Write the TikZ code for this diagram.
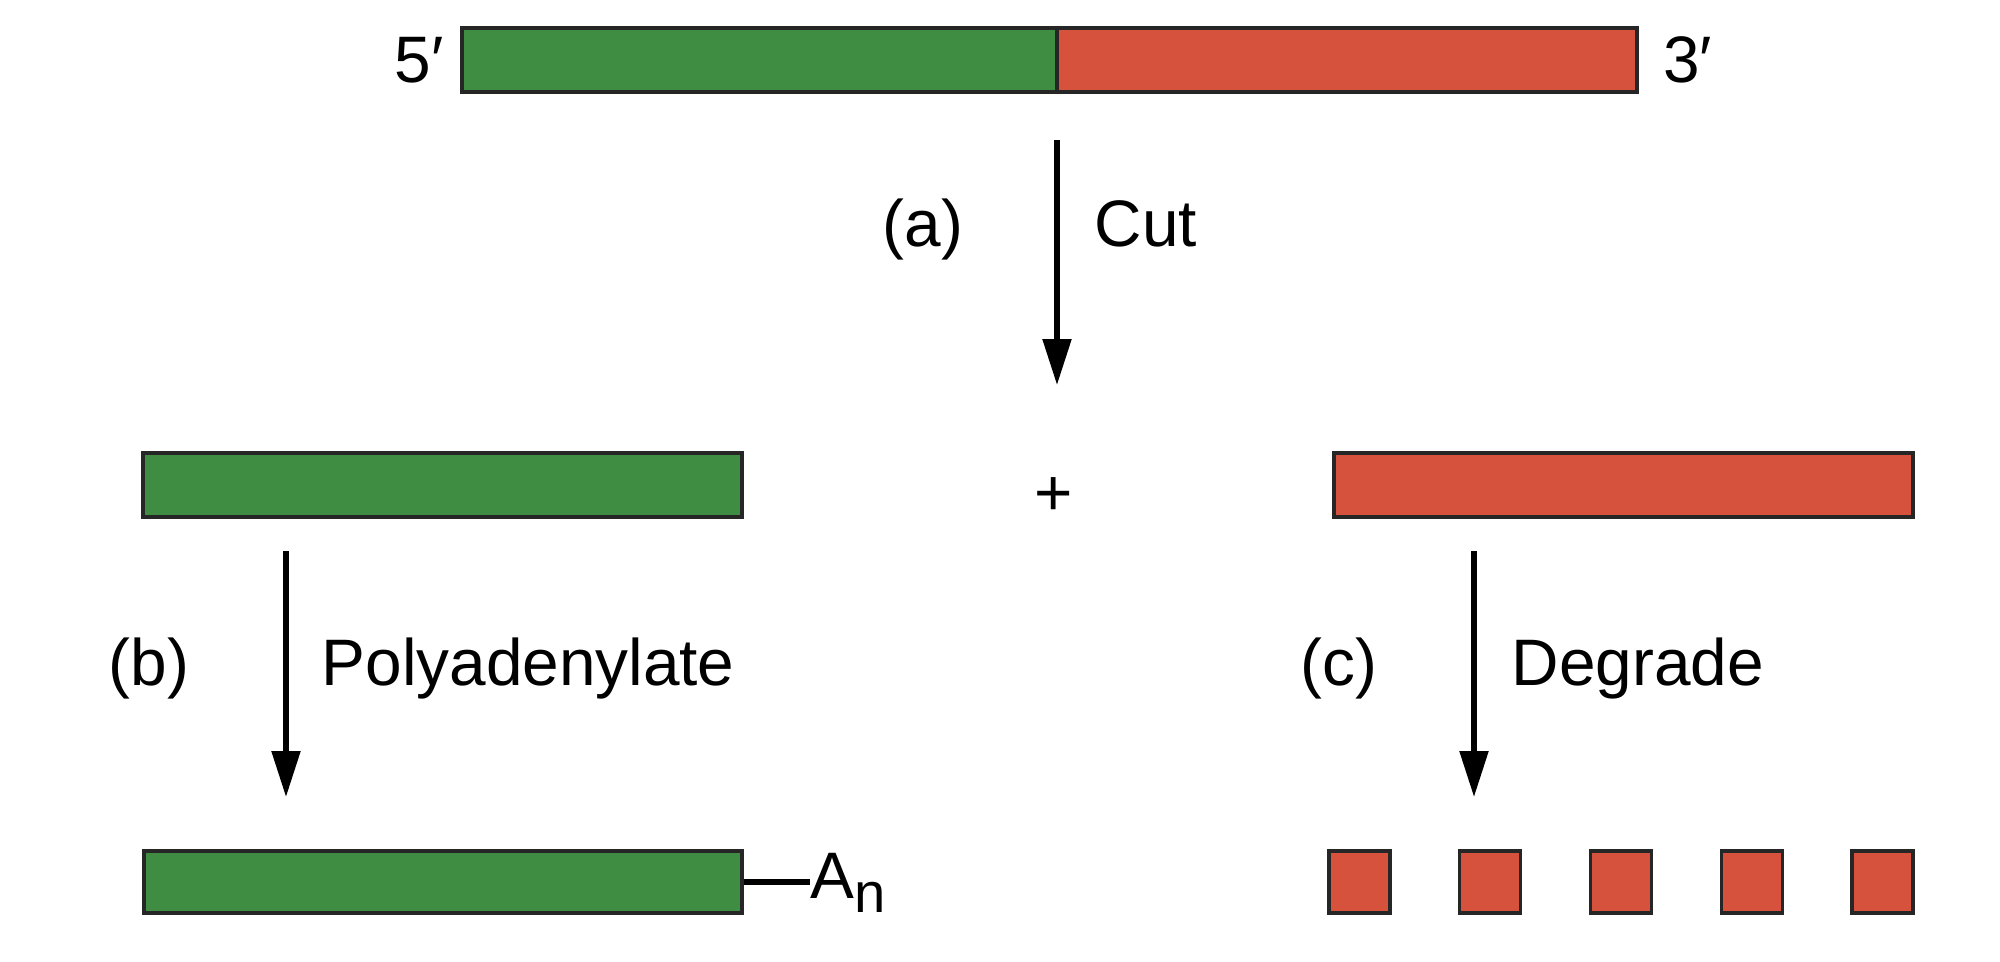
\documentclass[tikz,border=0pt]{standalone}
\usepackage{fontspec}
\setmainfont{Liberation Sans}
\usetikzlibrary{arrows.meta}
\definecolor{rnaGreen}{RGB}{62,141,66}
\definecolor{rnaRed}{RGB}{214,82,61}

\begin{document}
\begin{tikzpicture}[>={Triangle[length=4.6mm,width=2.8mm]},
		bar/.style={draw=black!85, line width=0.9pt, minimum height=0.64cm, inner sep=0pt},
		greenbar/.style={bar, fill=rnaGreen},
		redbar/.style={bar, fill=rnaRed},
		steparrow/.style={->, line width=1.5pt},
		lbl/.style={font=\fontsize{18.7}{22}\selectfont, inner sep=0pt}]
				\useasboundingbox (0,0) rectangle (20,-9.61);

				\node[greenbar, minimum width=5.95cm] (fullRNA5) at (7.595, -0.60) {};
				\node[redbar, minimum width=5.80cm] (fullRNA3) at (13.47, -0.60) {};
				\node[lbl, anchor=east] (end5) at ([xshift=-1.6mm]fullRNA5.west) {5′};
				\node[lbl, anchor=west] (end3) at ([xshift=2.4mm]fullRNA3.east) {3′};

				\coordinate (cutTop) at (10.57, -1.40);
				\coordinate (cutTip) at (10.57, -3.85);
				\draw[steparrow] (cutTop) -- (cutTip);
				\node[lbl, anchor=base] (stepA) at (9.23, -2.46) {(a)};
				\node[lbl, anchor=base west] (cutLbl) at (10.94, -2.46) {Cut};

				\node[greenbar, minimum width=5.99cm] (upFrag) at (4.425, -4.85) {};
				\node[lbl] (plus) at (10.54, -4.97) {+};
				\node[redbar, minimum width=5.79cm] (downFrag) at (16.235, -4.85) {};

				% left branch
				\coordinate (polyTop) at (2.86, -5.51);
				\coordinate (polyTip) at (2.86, -7.97);
				\draw[steparrow] (polyTop) -- (polyTip);
				\node[lbl, anchor=base] (stepB) at (1.49, -6.85) {(b)};
				\node[lbl, anchor=base west] (polyLbl) at (3.21, -6.85) {Polyadenylate};

				\node[greenbar, minimum width=5.98cm, minimum height=0.62cm] (tailedFrag) at (4.43, -8.82) {};
				\node[lbl, anchor=base west] (polyA) at (8.10, -8.98)
					{A\raisebox{-0.14cm}{\fontsize{16}{18}\selectfont n}};
				\draw[line width=1.5pt] (tailedFrag.east) -- (tailedFrag.east -| polyA.west);

				% right branch
				\coordinate (degTop) at (14.74, -5.51);
				\coordinate (degTip) at (14.74, -7.97);
				\draw[steparrow] (degTop) -- (degTip);
				\node[lbl, anchor=base] (stepC) at (13.39, -6.85) {(c)};
				\node[lbl, anchor=base west] (degLbl) at (15.11, -6.85) {Degrade};

				\foreach \i in {0,...,4}
					\node[redbar, minimum width=0.61cm, minimum height=0.62cm] (piece\i)
						at (13.595+1.3075*\i, -8.82) {};
			\end{tikzpicture}
\end{document}
